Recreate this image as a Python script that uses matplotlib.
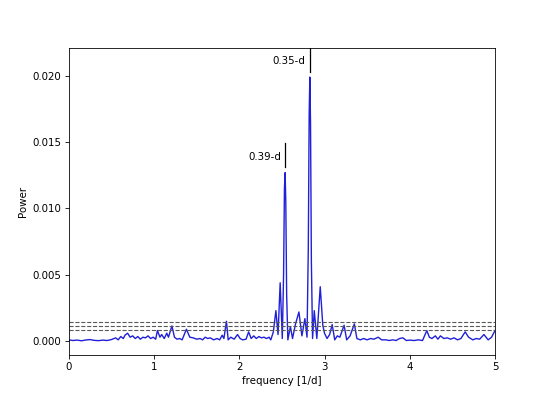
import matplotlib
matplotlib.use("Agg")
import matplotlib.pyplot as plt

# reference looks like a bigger default figure shrunk down (~0.74x), so scale text/ticks
s = 0.74
plt.rcParams["font.size"] = 10 * s
plt.rcParams["axes.linewidth"] = 0.8 * s
plt.rcParams["axes.labelpad"] = 4 * s
plt.rcParams["xtick.major.size"] = 3.5 * s
plt.rcParams["ytick.major.size"] = 3.5 * s
plt.rcParams["xtick.major.pad"] = 3.5 * s
plt.rcParams["ytick.major.pad"] = 3.5 * s
plt.rcParams["xtick.major.width"] = 0.8 * s
plt.rcParams["ytick.major.width"] = 0.8 * s

# periodogram (frequency in 1/d, power)
freq = [0.00, 0.05, 0.10, 0.15, 0.20, 0.25, 0.30, 0.35, 0.40, 0.45,
        0.50, 0.55, 0.58, 0.61, 0.64, 0.66, 0.69, 0.72, 0.75, 0.78,
        0.81, 0.84, 0.87, 0.90, 0.93, 0.96, 0.99, 1.02, 1.04, 1.07,
        1.09, 1.12, 1.15, 1.17, 1.21, 1.24, 1.27, 1.30, 1.33, 1.38,
        1.42, 1.46, 1.50, 1.54, 1.57, 1.60, 1.63, 1.66, 1.70, 1.74,
        1.77, 1.80, 1.82, 1.85, 1.87, 1.90, 1.94, 1.98, 2.01, 2.04,
        2.08, 2.11, 2.14, 2.17, 2.20, 2.23, 2.26, 2.29, 2.32, 2.35,
        2.37, 2.40, 2.43, 2.455, 2.48, 2.505, 2.52, 2.53, 2.538, 2.546,
        2.556, 2.57, 2.60, 2.625, 2.66, 2.70, 2.735, 2.77, 2.795, 2.81,
        2.82, 2.828, 2.836, 2.846, 2.86, 2.88, 2.91, 2.95, 2.98, 3.00,
        3.03, 3.06, 3.09, 3.12, 3.15, 3.18, 3.23, 3.26, 3.30, 3.35,
        3.38, 3.42, 3.46, 3.50, 3.54, 3.58, 3.63, 3.67, 3.72, 3.76,
        3.80, 3.84, 3.88, 3.92, 3.96, 4.00, 4.05, 4.10, 4.15, 4.20,
        4.23, 4.26, 4.30, 4.33, 4.36, 4.40, 4.44, 4.48, 4.52, 4.56,
        4.60, 4.65, 4.69, 4.74, 4.78, 4.82, 4.87, 4.92, 4.96, 5.00]
power = [0.00010, 0.00005, 0.00008, 0.00003, 0.00009, 0.00012, 0.00006, 0.00004, 0.00008, 0.00005,
         0.00012, 0.00025, 0.00010, 0.00035, 0.00020, 0.00045, 0.00060, 0.00030, 0.00040, 0.00020,
         0.00035, 0.00015, 0.00030, 0.00025, 0.00040, 0.00020, 0.00030, 0.00015, 0.00080, 0.00030,
         0.00050, 0.00020, 0.00060, 0.00030, 0.00115, 0.00030, 0.00015, 0.00020, 0.00010, 0.00090,
         0.00030, 0.00025, 0.00015, 0.00020, 0.00010, 0.00030, 0.00020, 0.00025, 0.00010, 0.00020,
         0.00010, 0.00045, 0.00020, 0.00150, 0.00010, 0.00030, 0.00015, 0.00050, 0.00020, 0.00010,
         0.00015, 0.00070, 0.00020, 0.00040, 0.00020, 0.00035, 0.00025, 0.00030, 0.00020, 0.00030,
         0.00010, 0.00070, 0.00230, 0.00050, 0.00440, 0.00020, 0.00500, 0.01150, 0.01270, 0.01050,
         0.00350, 0.00010, 0.00110, 0.00020, 0.00130, 0.00220, 0.00040, 0.00170, 0.00030, 0.00700,
         0.01700, 0.01990, 0.01650, 0.00600, 0.00020, 0.00230, 0.00020, 0.00410, 0.00120, 0.00060,
         0.00020, 0.00050, 0.00125, 0.00010, 0.00040, 0.00030, 0.00120, 0.00010, 0.00040, 0.00130,
         0.00020, 0.00010, 0.00020, 0.00010, 0.00020, 0.00015, 0.00030, 0.00010, 0.00010, 0.00005,
         0.00010, 0.00005, 0.00020, 0.00025, 0.00005, 0.00008, 0.00005, 0.00010, 0.00005, 0.00080,
         0.00030, 0.00020, 0.00040, 0.00015, 0.00040, 0.00020, 0.00025, 0.00015, 0.00025, 0.00010,
         0.00020, 0.00070, 0.00030, 0.00010, 0.00020, 0.00015, 0.00050, 0.00010, 0.00030, 0.00080]

# significance levels (dashed)
levels = [0.00084, 0.00112, 0.00143]

# marked peaks
peak_freq = [2.828, 2.538]
peak_power = [0.01990, 0.01270]
peak_labels = ["0.35-d", "0.39-d"]

fig, ax = plt.subplots(figsize=(5.5, 3.99), dpi=100)
ax.plot(freq, power, color="#2020d8", lw=1.0)

for lev in levels:
    ax.axhline(lev, color="0.35", ls="--", lw=0.8)

for f, p, lab in zip(peak_freq, peak_power, peak_labels):
    ax.plot([f, f], [p + 0.0004, p + 0.0022], color="black", lw=0.9)
    ax.text(f - 0.05, p + 0.0012, lab, ha="right", va="center")

ax.set_xlim(0, 5)
ax.set_ylim(-0.00105, 0.0221)
ax.set_xlabel("frequency [1/d]")
ax.set_ylabel("Power")

fig.savefig("out.png", dpi=100)
